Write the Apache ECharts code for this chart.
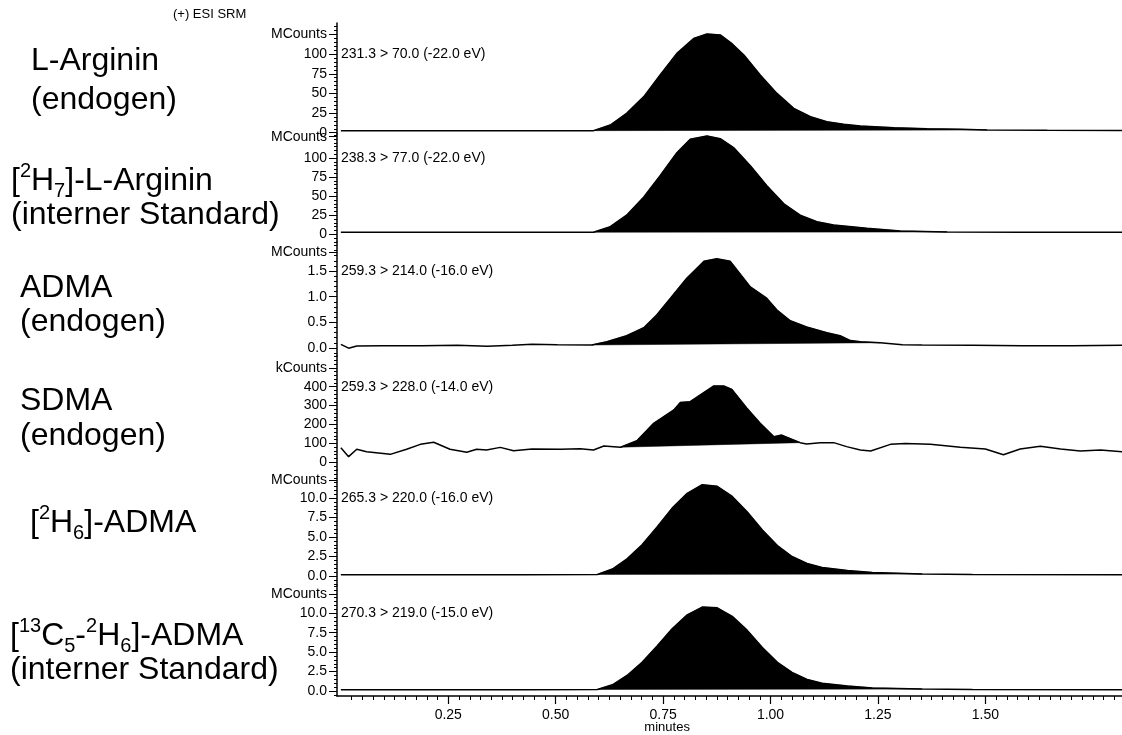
<!DOCTYPE html>
<html><head><meta charset="utf-8">
<script src="https://cdn.jsdelivr.net/npm/echarts@6/dist/echarts.min.js"></script>
<style>html,body{margin:0;padding:0;background:#fff}#c{width:1122px;height:735px}</style>
</head><body><div id="c"></div>
<script>
// ---------------- DATA ----------------
const argTime = [0.0,0.131,0.306,0.480,0.588,0.627,0.665,0.705,0.743,0.782,0.821,0.852,0.883,0.911,0.938,0.976,1.015,1.054,1.093,1.131,1.170,1.209,1.287,1.364,1.442,1.504,1.644,1.82];
const argVal  = [2.5,2.5,2.4,2.5,2.6,9.8,24.7,45.9,73.5,101,120,125.7,124.5,113,99,73.5,50,31,20.4,14,10.7,8.5,6.4,5,4.3,3.5,3,2.8];

const d7Time = [0.0,0.189,0.422,0.588,0.627,0.665,0.705,0.743,0.782,0.813,0.852,0.883,0.914,0.953,0.991,1.031,1.069,1.108,1.147,1.224,1.302,1.411,1.586,1.82];
const d7Val  = [2.6,2.6,2.6,2.6,10,25,48.8,77,107,124.7,129,125.5,113.8,90,64,40,25,16.4,12,7.8,4.3,3,2.7,2.6];

const admaTime = [0.0,0.018,0.037,0.096,0.189,0.271,0.341,0.399,0.445,0.504,0.584,0.619,0.665,0.705,0.735,0.767,0.805,0.845,0.875,0.906,0.953,0.991,1.015,1.046,1.084,1.131,1.162,1.186,1.209,1.255,1.307,1.353,1.470,1.586,1.702,1.82];
const admaVal  = [0.072,-0.003,0.039,0.044,0.044,0.053,0.035,0.053,0.072,0.062,0.059,0.122,0.238,0.396,0.643,0.97,1.36,1.69,1.74,1.69,1.19,0.97,0.74,0.53,0.41,0.30,0.238,0.145,0.122,0.103,0.062,0.059,0.053,0.044,0.044,0.053];

const sdmaTime = [0.0,0.018,0.037,0.060,0.115,0.153,0.185,0.216,0.254,0.293,0.316,0.339,0.371,0.402,0.445,0.511,0.557,0.588,0.612,0.651,0.689,0.728,0.775,0.790,0.813,0.868,0.891,0.910,0.945,0.976,1.008,1.026,1.069,1.084,1.116,1.147,1.177,1.209,1.233,1.279,1.314,1.372,1.442,1.500,1.542,1.581,1.628,1.675,1.721,1.768,1.82];
const sdmaVal  = [77,30,69,56,42,69,95,106,69,53,69,65,79,61,70,69,72,65,86,80,114,206,277,317,321,404,404,386,286,206,135,144,104,97,104,104,83,65,60,95,100,95,80,70,40,70,85,70,60,65,55];

const d6Time = [0.0,0.189,0.422,0.597,0.632,0.666,0.701,0.736,0.771,0.806,0.841,0.876,0.911,0.946,0.981,1.016,1.050,1.085,1.120,1.179,1.237,1.353,1.470,1.82];
const d6Val  = [0.15,0.15,0.15,0.2,0.9,2.2,4.0,6.3,8.7,10.6,11.7,11.5,10.2,8.2,5.9,3.9,2.5,1.6,1.1,0.7,0.45,0.25,0.2,0.15];

const c13Time = [0.0,0.189,0.422,0.597,0.632,0.666,0.701,0.736,0.771,0.806,0.841,0.876,0.911,0.946,0.981,1.016,1.050,1.085,1.120,1.179,1.237,1.353,1.470,1.82];
const c13Val  = [0.15,0.15,0.15,0.2,0.8,2.0,3.7,5.8,8.0,9.8,10.8,10.7,9.6,7.8,5.6,3.7,2.4,1.5,1.0,0.65,0.4,0.25,0.2,0.15];

const peakWindows = [[0.588,1.504],[0.588,1.411],[0.584,1.255],[0.651,1.069],[0.597,1.353],[0.597,1.353]];
const transitions = ['231.3 > 70.0 (-22.0 eV)','238.3 > 77.0 (-22.0 eV)','259.3 > 214.0 (-16.0 eV)','259.3 > 228.0 (-14.0 eV)','265.3 > 220.0 (-16.0 eV)','270.3 > 219.0 (-15.0 eV)'];
const yTickValues = [[0,25,50,75,100],[0,25,50,75,100],[0,0.5,1.0,1.5],[0,100,200,300,400],[0,2.5,5,7.5,10],[0,2.5,5,7.5,10]];
const yTickLabels = [['0','25','50','75','100'],['0','25','50','75','100'],['0.0','0.5','1.0','1.5'],['0','100','200','300','400'],['0.0','2.5','5.0','7.5','10.0'],['0.0','2.5','5.0','7.5','10.0']];
const unitNames = ['MCounts','MCounts','MCounts','kCounts','MCounts','MCounts'];
const unitTickValues = [125,128,1.87,500,12.3,12.4];
const xTickValues = [0.25,0.50,0.75,1.00,1.25,1.50];
const xTickLabels = ['0.25','0.50','0.75','1.00','1.25','1.50'];
const compoundLabels = [
  ['L-Arginin','(endogen)'],
  ['[{sup|2}H{sub|7}]-L-Arginin','(interner Standard)'],
  ['ADMA','(endogen)'],
  ['SDMA','(endogen)'],
  ['[{sup|2}H{sub|6}]-ADMA'],
  ['[{sup|13}C{sub|5}-{sup|2}H{sub|6}]-ADMA','(interner Standard)']
];

// ---------------- LAYOUT ----------------
const FONT = '"Liberation Sans", Arial, Helvetica, sans-serif';
const X_MIN = -0.009, X_MAX = 1.818;
const GRID_LEFT = 337;
const bounds = [23,134,242,356,470,585,696];
const yRanges = [[-1.66,139.7],[-10.2,131.6],[-0.156,2.066],[-40.7,562.4],[-1.15,13.59],[-0.64,13.64]];
const minorSteps = [5,5,0.1,20,0.5,0.5];
const labelPos = [[31,61],[11,181],[20,288],[20,401],[30,523],[10,636]];
const lineGaps = [39,34,34,35,34,34];

const traceTimes = [argTime,d7Time,admaTime,sdmaTime,d6Time,c13Time];
const traceVals  = [argVal,d7Val,admaVal,sdmaVal,d6Val,c13Val];

function ticksBetween(min,max,step){
  const out=[];
  for(let k=Math.ceil(min/step-1e-9); k*step<=max+1e-9; k++) out.push(+(k*step).toFixed(6));
  return out;
}

const grids=[], xAxes=[], yAxes=[], series=[];
for(let i=0;i<6;i++){
  grids.push({left:GRID_LEFT, right:0, top:bounds[i], height:bounds[i+1]-bounds[i]});
  xAxes.push({gridIndex:i, type:'value', min:X_MIN, max:X_MAX, show:i===5,
    axisLine:{show:true,onZero:false,lineStyle:{color:'#000',width:1.5}},
    axisTick:{show:true,length:4,customValues:ticksBetween(0.02,1.81,0.025),lineStyle:{color:'#000',width:1}},
    axisLabel:{show:false}, splitLine:{show:false}});
  const [ymin,ymax]=yRanges[i];
  yAxes.push({gridIndex:i, type:'value', min:ymin, max:ymax, position:'left',
    axisLine:{show:true,onZero:false,lineStyle:{color:'#000',width:1.5}},
    axisTick:{show:true,length:3,customValues:ticksBetween(ymin,ymax,minorSteps[i]),lineStyle:{color:'#000',width:1}},
    axisLabel:{show:false}, splitLine:{show:false}});
  const tv=yTickValues[i].concat([unitTickValues[i]]), tl=yTickLabels[i].concat([unitNames[i]]);
  yAxes.push({gridIndex:i, type:'value', min:ymin, max:ymax, position:'left',
    axisLine:{show:false,onZero:false},
    axisTick:{show:true,length:8,customValues:tv,lineStyle:{color:'#000',width:1}},
    axisLabel:{show:true,customValues:tv,margin:10,color:'#000',fontSize:14,fontFamily:FONT,
      formatter:(v)=>{const k=tv.findIndex(x=>Math.abs(x-v)<1e-9);return k>=0?tl[k]:'';}},
    splitLine:{show:false}});
  const pts = traceTimes[i].map((t,j)=>[t,traceVals[i][j]]);
  const win = peakWindows[i];
  series.push({type:'custom', xAxisIndex:i, yAxisIndex:2*i, silent:true, z:2,
    data:[[win[0],0]], encode:{x:0,y:1},
    renderItem:(params,api)=>{
      const poly = pts.filter(p=>p[0]>=win[0]-1e-9 && p[0]<=win[1]+1e-9).map(p=>api.coord(p));
      return {type:'polygon', shape:{points:poly}, style:{fill:'#000', stroke:'#000', lineWidth:0.5}};
    }});
  series.push({type:'line', xAxisIndex:i, yAxisIndex:2*i, data:pts, showSymbol:false, symbol:'none',
    silent:true, z:3, lineStyle:{color:'#000',width:1.5}, animation:false});
}
xAxes.push({gridIndex:5, type:'value', min:X_MIN, max:X_MAX, position:'bottom',
  axisLine:{show:false,onZero:false},
  axisTick:{show:true,length:8,customValues:xTickValues,lineStyle:{color:'#000',width:1.2}},
  axisLabel:{show:true,customValues:xTickValues,margin:12,color:'#000',fontSize:14,fontFamily:FONT,
    formatter:(v)=>{const k=xTickValues.findIndex(x=>Math.abs(x-v)<1e-9);return k>=0?xTickLabels[k]:'';}},
  splitLine:{show:false}});

const chart = echarts.init(document.getElementById('c'));
chart.setOption({animation:false, backgroundColor:'#fff', grid:grids, xAxis:xAxes, yAxis:yAxes, series:series});

const graphics = [];
graphics.push({type:'text', left:173, top:8, style:{text:'(+) ESI SRM', font:'13px '+FONT, fill:'#000'}});
const minutesX = chart.convertToPixel({xAxisIndex:6}, 0.75);
graphics.push({type:'text', x:minutesX+4, y:727, style:{text:'minutes', font:'13px '+FONT, fill:'#000', textAlign:'center', textVerticalAlign:'middle'}});
const richStyles = {sup:{fontSize:20, fontFamily:FONT, padding:[0,0,19,0]}, sub:{fontSize:20, fontFamily:FONT, padding:[20,0,0,0]}};
for(let i=0;i<6;i++){
  const topVal = yTickValues[i][yTickValues[i].length-1];
  const py = chart.convertToPixel({yAxisIndex:2*i+1}, topVal);
  graphics.push({type:'text', x:341, y:py, style:{text:transitions[i], font:'14px '+FONT, fill:'#000', textVerticalAlign:'middle'}});
  compoundLabels[i].forEach((s,k)=>{
    graphics.push({type:'text', x:labelPos[i][0], y:labelPos[i][1]+k*lineGaps[i],
      style:{text:s, fontSize:32, fontFamily:FONT, fill:'#000', textVerticalAlign:'middle', rich:richStyles}});
  });
}
chart.setOption({graphic:graphics});
</script></body></html>
